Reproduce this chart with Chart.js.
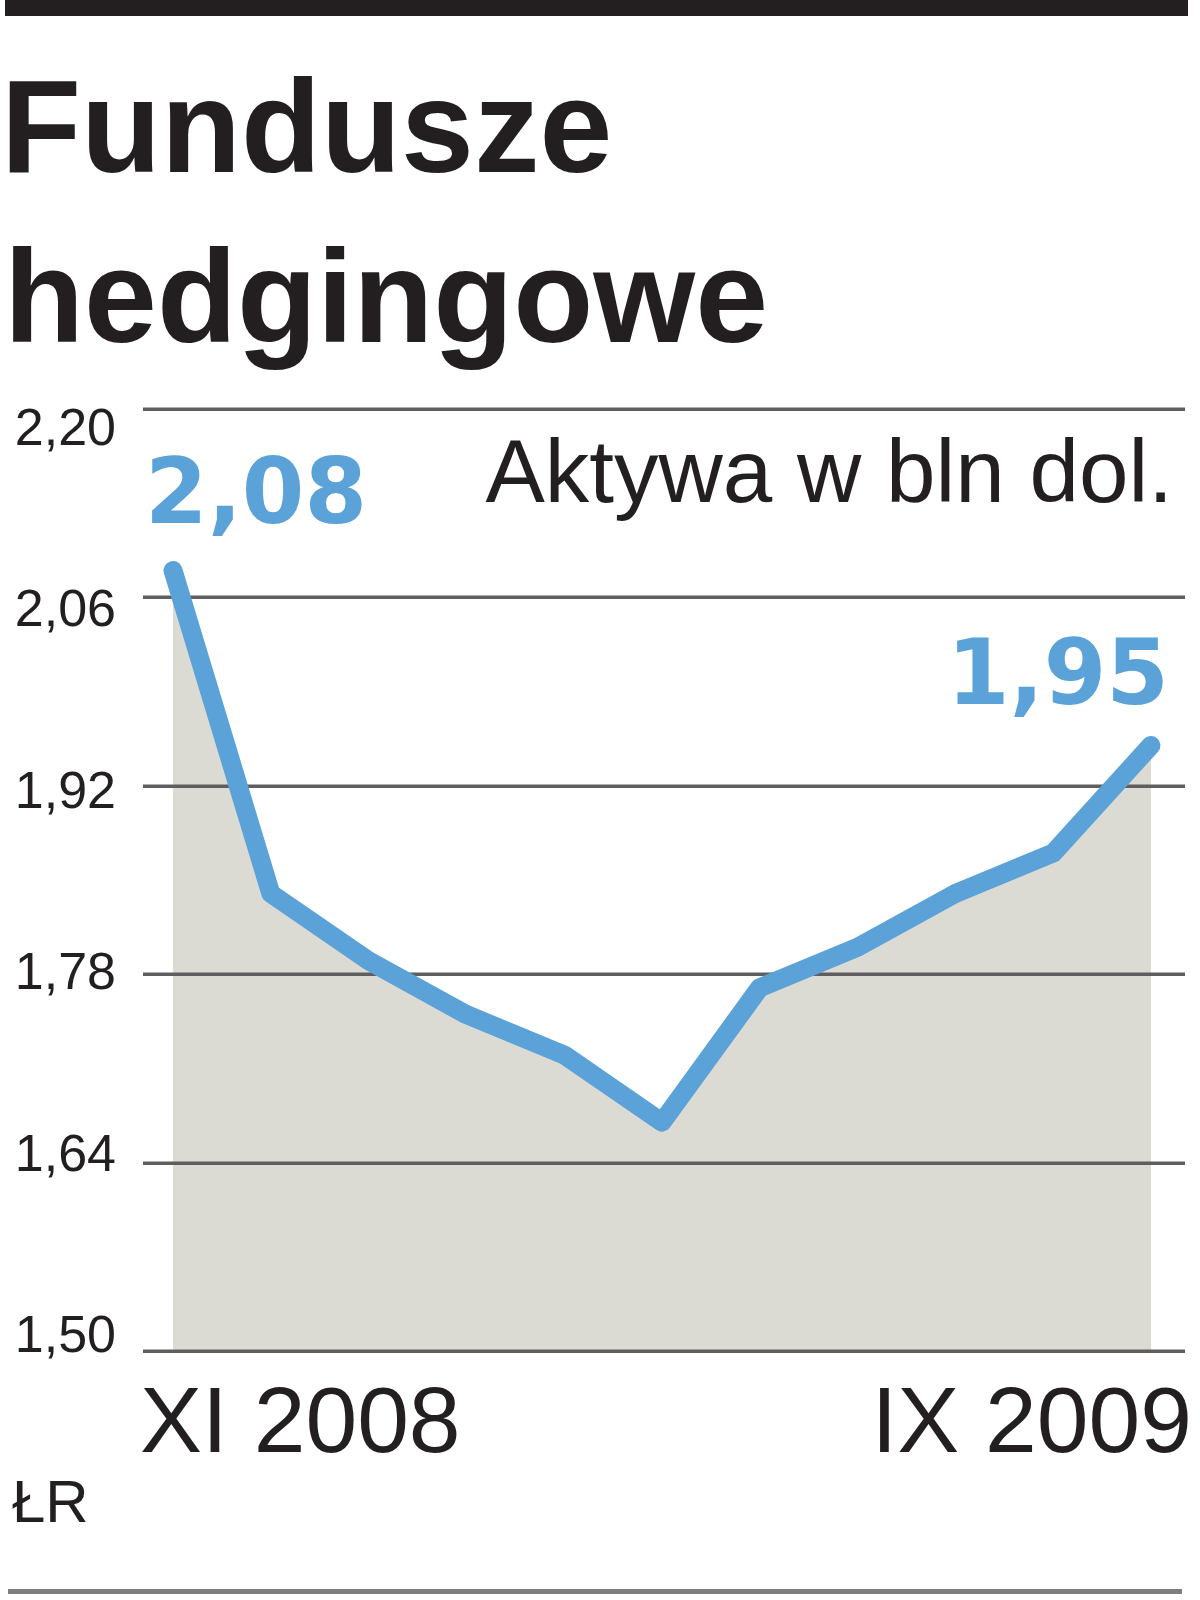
<!DOCTYPE html>
<html>
<head>
<meta charset="utf-8">
<script src="https://cdn.jsdelivr.net/npm/chart.js@4.4.1/dist/chart.umd.min.js"></script>
<style>
  html, body { margin: 0; padding: 0; background: #ffffff; }
  canvas { display: block; }
</style>
</head>
<body>
<canvas id="c" width="1200" height="1600"></canvas>
<script>
// ---- data ----
const months = ['XI 2008','XII 2008','I 2009','II 2009','III 2009','IV 2009','V 2009','VI 2009','VII 2009','VIII 2009','IX 2009'];
const assets = [2.08, 1.84, 1.79, 1.75, 1.72, 1.67, 1.77, 1.80, 1.84, 1.87, 1.95];
const yTicks = [2.20, 2.06, 1.92, 1.78, 1.64, 1.50];
const xTickLabels = ['XI 2008', 'IX 2009'];
const titleLines = ['Fundusze', 'hedgingowe'];
const unitLabel = 'Aktywa w bln dol.';
const sourceLabel = 'ŁR';

const fmt = v => v.toFixed(2).replace('.', ',');
const points = assets.map((v, i) => ({ x: i, y: v }));

const INK = '#231f20';
const BLUE = '#5aa2d8';

const decor = {
  id: 'decor',
  beforeDatasetDraw(chart, args) {
    if (args.index !== 1) return;
    const { ctx, chartArea } = chart;
    const ys = chart.scales.y;
    ctx.save();
    ctx.strokeStyle = '#5e5e5e';
    ctx.lineWidth = 3.5;
    yTicks.forEach(v => {
      const y = Math.round(ys.getPixelForValue(v)) + 0.25;
      ctx.beginPath();
      ctx.moveTo(chartArea.left, y);
      ctx.lineTo(chartArea.right, y);
      ctx.stroke();
    });
    ctx.restore();
  },
  afterDraw(chart) {
    const { ctx } = chart;
    const ys = chart.scales.y;
    ctx.save();
    // top bar & bottom rule
    ctx.fillStyle = INK;
    ctx.fillRect(5, 0, 1183, 16);
    ctx.fillStyle = '#7f7f7f';
    ctx.fillRect(8, 1589, 1174, 5);

    // title
    ctx.fillStyle = INK;
    ctx.textAlign = 'left';
    ctx.textBaseline = 'alphabetic';
    ctx.font = 'bold 131px "Liberation Sans", Arial, sans-serif';
    ctx.fillText(titleLines[0], 1, 172);
    ctx.fillText(titleLines[1], 4, 342);

    // unit label
    ctx.font = '89px "Liberation Sans", Arial, sans-serif';
    ctx.textAlign = 'right';
    ctx.fillText(unitLabel, 1173, 502);

    // y tick labels
    ctx.font = '52px "Liberation Sans", Arial, sans-serif';
    ctx.textAlign = 'right';
    const span = ys.max - ys.min;
    yTicks.forEach(v => {
      const frac = (ys.max - v) / span;
      const center = ys.getPixelForValue(v) + (0.5 - frac) * 35;
      ctx.fillText(fmt(v), 116, center + 18.5);
    });

    // x labels
    ctx.font = '93px "Liberation Sans", Arial, sans-serif';
    ctx.textAlign = 'left';
    ctx.fillText(xTickLabels[0], 140, 1452);
    ctx.textAlign = 'right';
    ctx.fillText(xTickLabels[1], 1192, 1452);

    // source
    ctx.font = '60px "Liberation Sans", Arial, sans-serif';
    ctx.textAlign = 'left';
    ctx.fillText(sourceLabel, 12, 1522);

    // value labels for first and last point
    const meta = chart.getDatasetMeta(1);
    const p0 = meta.data[0];
    const pN = meta.data[meta.data.length - 1];
    ctx.fillStyle = BLUE;
    ctx.font = 'bold 90px "DejaVu Sans", "Liberation Sans", sans-serif';
    ctx.textAlign = 'left';
    ctx.fillText(fmt(assets[0]), p0.x - 28, p0.y - 47);
    ctx.textAlign = 'right';
    ctx.fillText(fmt(assets[assets.length - 1]), pN.x + 18, pN.y - 41);
    ctx.restore();
  }
};

new Chart(document.getElementById('c'), {
  type: 'line',
  data: {
    labels: months,
    datasets: [
      {
        label: 'fill',
        data: points,
        borderWidth: 0,
        backgroundColor: '#dcdbd3',
        fill: 'start',
        pointRadius: 0,
        order: 2,
        tension: 0
      },
      {
        label: 'Aktywa',
        data: points,
        borderColor: BLUE,
        borderWidth: 19,
        borderCapStyle: 'round',
        borderJoinStyle: 'round',
        fill: false,
        pointRadius: 0,
        order: 1,
        tension: 0
      }
    ]
  },
  options: {
    responsive: false,
    devicePixelRatio: 1,
    animation: false,
    layout: { padding: { left: 143, right: 15, top: 409, bottom: 249 } },
    plugins: { legend: { display: false }, tooltip: { enabled: false } },
    scales: {
      x: { type: 'linear', display: false, min: -0.307, max: 10.348 },
      y: { type: 'linear', display: false, min: 1.50, max: 2.20 }
    }
  },
  plugins: [decor]
});
</script>
</body>
</html>
